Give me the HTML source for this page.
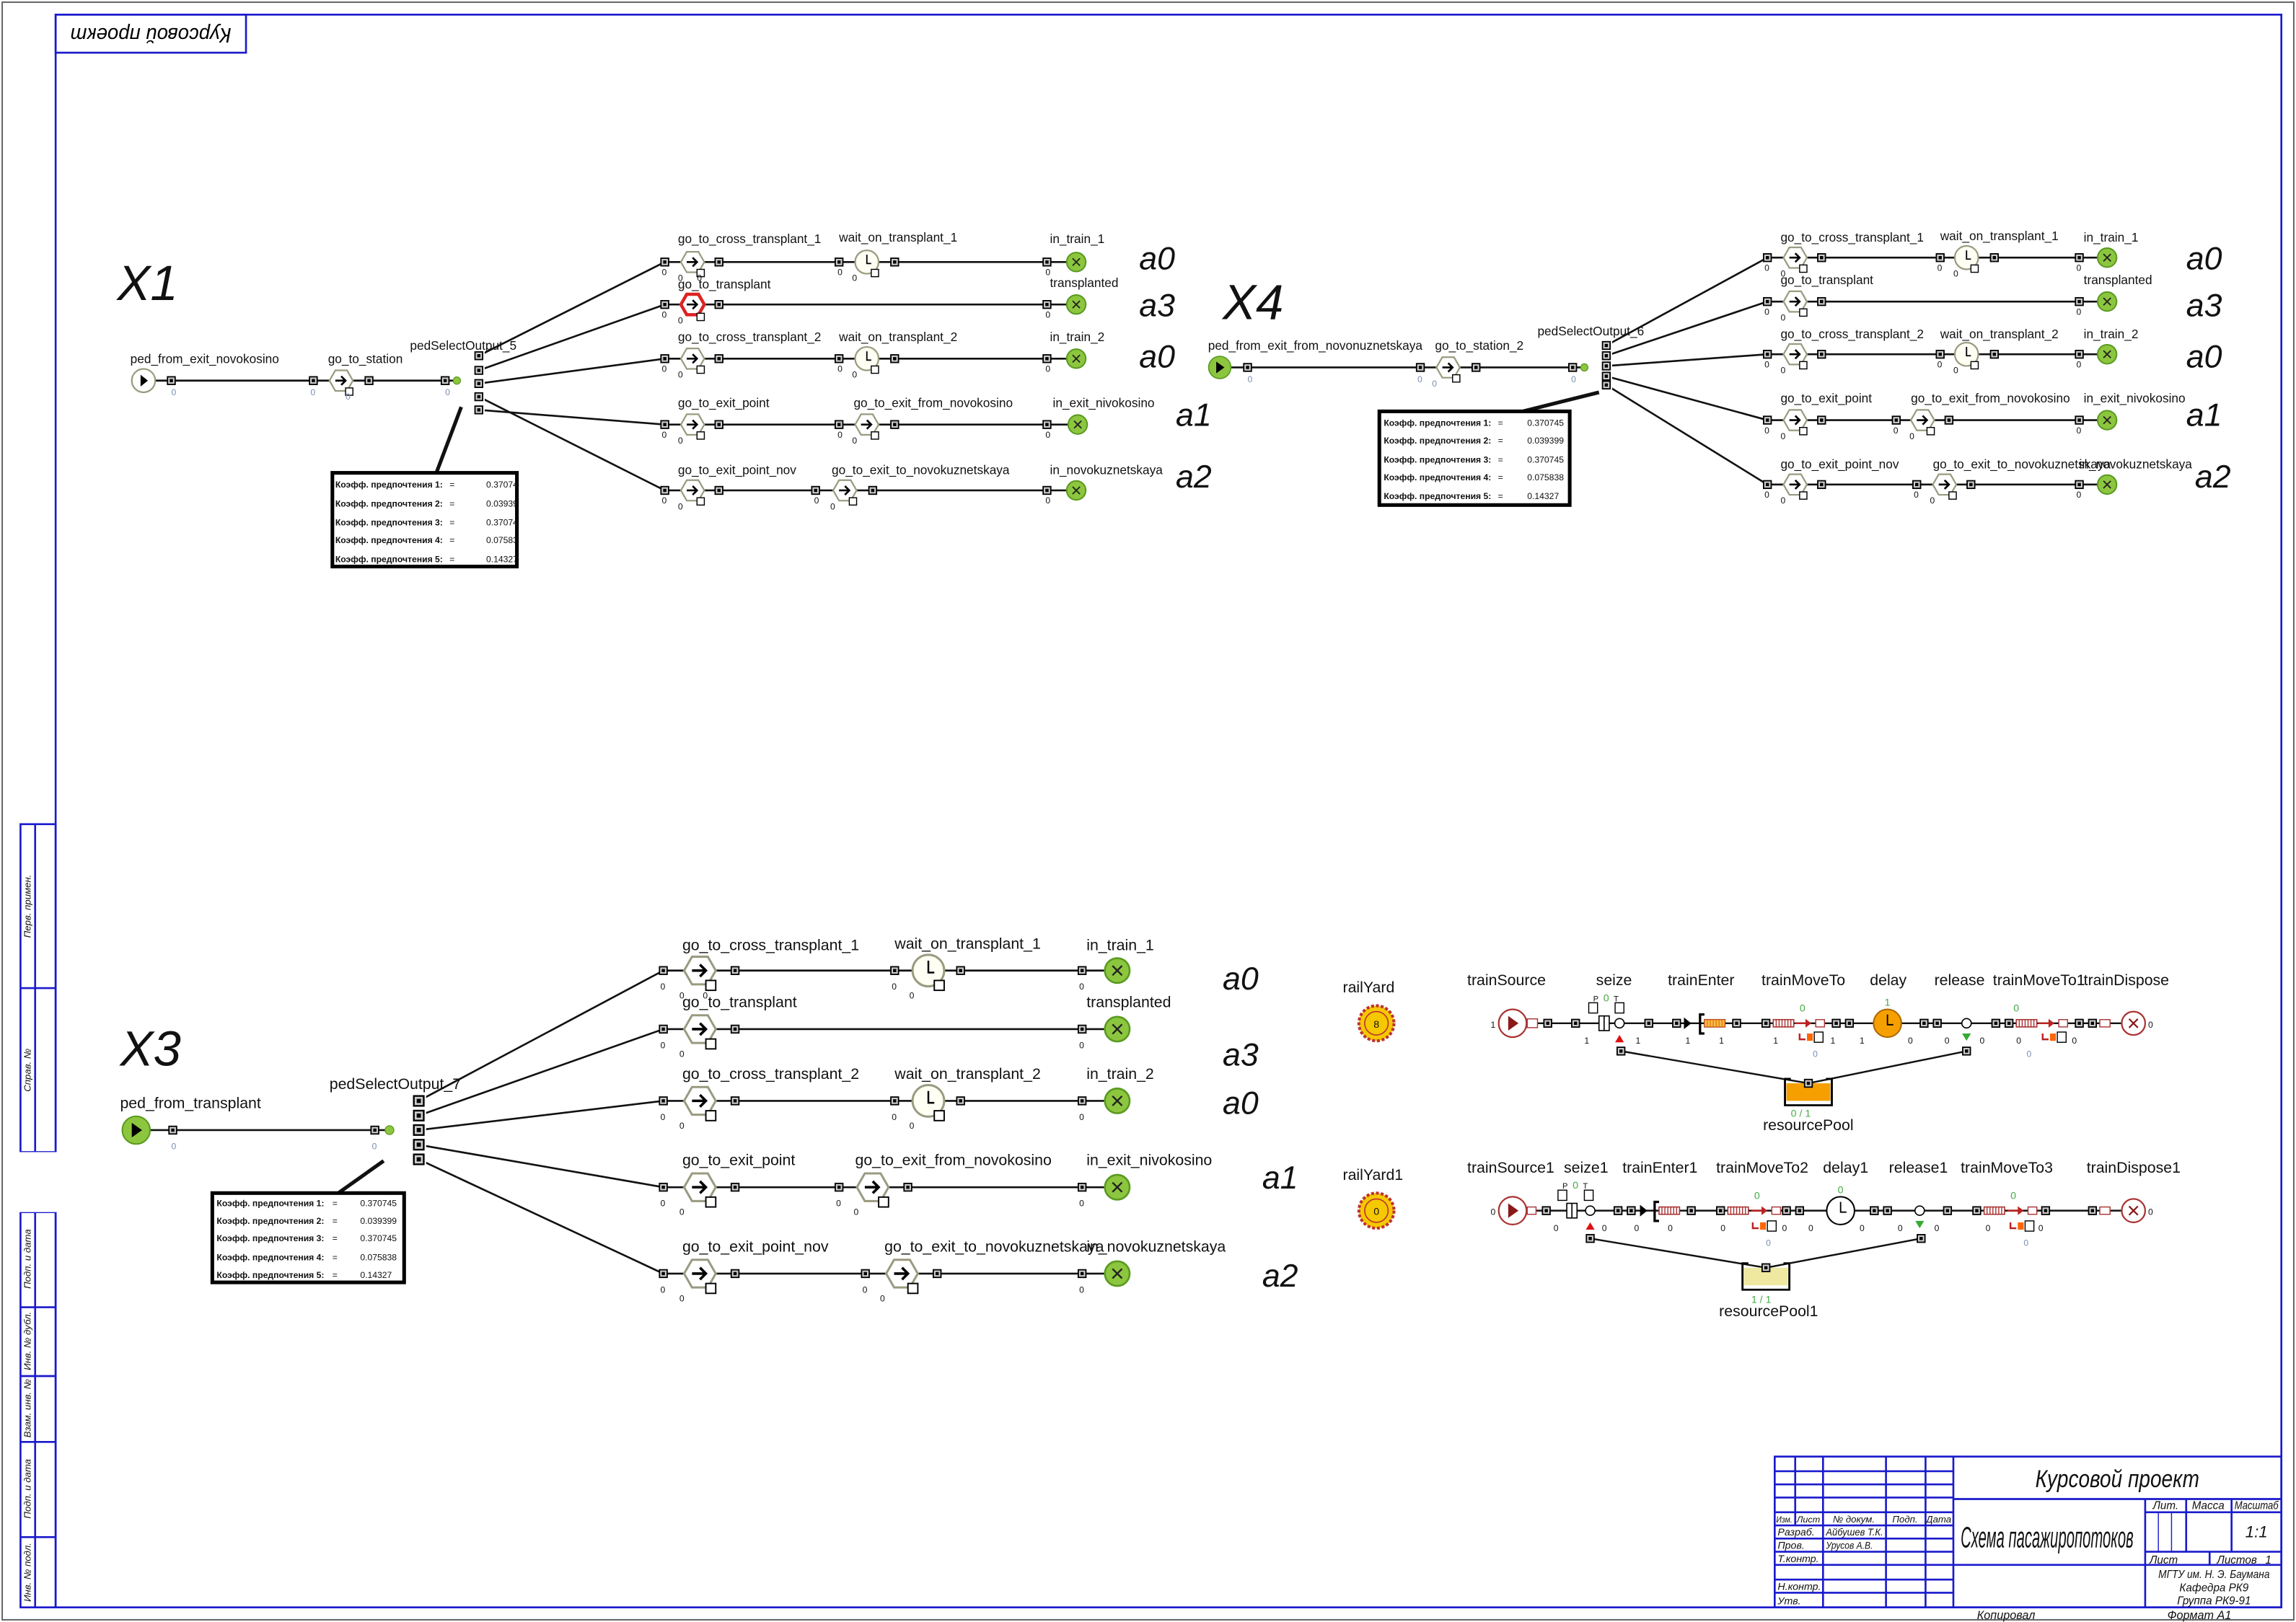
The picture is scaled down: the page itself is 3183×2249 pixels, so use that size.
<!DOCTYPE html>
<html><head><meta charset="utf-8"><style>
html,body{margin:0;padding:0;background:#fff;}
svg{display:block;}
text{font-family:"Liberation Sans Narrow","Liberation Sans",sans-serif;fill:#111;}
.l{font-size:8.5px;}
.lb{font-size:10.5px;}
.z{font-size:6px;fill:#7a8fb0;}
.g{font-size:7px;fill:#4a4;}
.big{font-size:34px;font-style:italic;font-family:"Liberation Sans Narrow","Liberation Sans",sans-serif;}
.a{font-size:22px;font-style:italic;}
.t{font-style:italic;fill:#000;}
.c{font-size:6px;font-weight:bold;}
.ln{stroke:#111;stroke-width:1.3;fill:none;}
.bl{stroke:#1a1acc;fill:none;stroke-width:1.3;}
</style></head><body>
<svg width="3183" height="2249" viewBox="0 0 1568 1108" preserveAspectRatio="none" xmlns="http://www.w3.org/2000/svg">
<defs>
<g id="p"><rect x="-2.6" y="-2.6" width="5.2" height="5.2" fill="#ccc" stroke="#000" stroke-width="0.9"/><rect x="-1.1" y="-1.1" width="2.2" height="2.2" fill="#000"/></g>
<g id="h"><polygon points="-8,0 -4,-7 4,-7 8,0 4,7 -4,7" fill="#fff" stroke="#9a9a80" stroke-width="1.1"/><path d="M-4,0 H3 M0,-3 L3,0 L0,3" stroke="#000" fill="none" stroke-width="1.3"/><rect x="3" y="5" width="5" height="5" fill="#fff" stroke="#000" stroke-width="0.7"/></g>
<g id="hr"><polygon points="-8,0 -4,-7 4,-7 8,0 4,7 -4,7" fill="#fff" stroke="#d22" stroke-width="2.2"/><path d="M-4,0 H3 M0,-3 L3,0 L0,3" stroke="#000" fill="none" stroke-width="1.3"/><rect x="3" y="6" width="5" height="5" fill="#fff" stroke="#000" stroke-width="0.7"/></g>
<g id="k"><circle r="8" fill="#fffff4" stroke="#9a9a80" stroke-width="1.1"/><path d="M0,-5 V1 H3" stroke="#000" fill="none" stroke-width="0.9"/><rect x="3" y="5" width="5" height="5" fill="#fff" stroke="#000" stroke-width="0.7"/></g>
<g id="s"><circle r="6.5" fill="#8cc63f" stroke="#5a9a20" stroke-width="1"/><path d="M-2.5,-2.5 L2.5,2.5 M2.5,-2.5 L-2.5,2.5" stroke="#222" stroke-width="0.9"/></g>
<g id="src"><circle r="8" fill="#fff" stroke="#9a9a80" stroke-width="1.1"/><polygon points="-2,-4 3,0 -2,4" fill="#000"/></g>
<g id="srcg"><circle r="9.5" fill="#8cc63f" stroke="#5a9a20" stroke-width="1"/><polygon points="-3,-5 4,0 -3,5" fill="#000"/></g>
<g id="hatch"><rect x="0" y="-2.5" width="14" height="5" fill="#fff" stroke="#a33" stroke-width="0.8"/><path d="M2,-2.5V2.5M4,-2.5V2.5M6,-2.5V2.5M8,-2.5V2.5M10,-2.5V2.5M12,-2.5V2.5" stroke="#a33" stroke-width="0.7"/></g>
<g id="ra"><path d="M0,0 H8" stroke="#b22" stroke-width="1.2"/><polygon points="7,-3 11,0 7,3" fill="#b22"/></g>
<g id="sub"><path d="M-9,-3 V1 H-5" stroke="#b22" fill="none" stroke-width="1.2"/><rect x="-4" y="-3" width="4" height="5" fill="#f60"/><rect x="1" y="-4" width="6" height="7" fill="#fff" stroke="#000" stroke-width="0.7"/></g>
</defs>

<!-- frames -->
<rect x="1.5" y="1.5" width="1565" height="1105" fill="none" stroke="#666" stroke-width="1"/>
<rect x="38" y="10" width="1520" height="1088" class="bl"/>
<rect x="38" y="10" width="130" height="26" class="bl"/>
<text class="t" font-size="14" transform="translate(103,23) rotate(180)" text-anchor="middle" dominant-baseline="middle" textLength="110" lengthAdjust="spacingAndGlyphs">Курсовой проект</text>
<!-- left strip -->
<rect x="14" y="563" width="24" height="535" class="bl"/>
<line x1="24" y1="563" x2="24" y2="1098" class="bl"/>
<line x1="14" y1="675" x2="38" y2="675" class="bl"/>
<line x1="14" y1="787" x2="38" y2="787" class="bl"/>
<line x1="14" y1="828" x2="38" y2="828" class="bl"/>
<line x1="14" y1="893" x2="38" y2="893" class="bl"/>
<line x1="14" y1="940" x2="38" y2="940" class="bl"/>
<line x1="14" y1="985" x2="38" y2="985" class="bl"/>
<line x1="14" y1="1050" x2="38" y2="1050" class="bl"/>
<rect x="11" y="787" width="30" height="41" fill="#fff" stroke="none"/>
<g class="t" font-size="6.5">
<text transform="translate(21,619) rotate(-90)" text-anchor="middle">Перв. примен.</text>
<text transform="translate(21,731) rotate(-90)" text-anchor="middle">Справ. №</text>
<text transform="translate(21,860) rotate(-90)" text-anchor="middle">Подп. и дата</text>
<text transform="translate(21,916) rotate(-90)" text-anchor="middle" textLength="40" lengthAdjust="spacingAndGlyphs">Инв. № дубл.</text>
<text transform="translate(21,962) rotate(-90)" text-anchor="middle" textLength="40" lengthAdjust="spacingAndGlyphs">Взам. инв. №</text>
<text transform="translate(21,1017) rotate(-90)" text-anchor="middle">Подп. и дата</text>
<text transform="translate(21,1074) rotate(-90)" text-anchor="middle">Инв. № подл.</text>
</g>

<!-- title block -->
<g class="bl">
<rect x="1212" y="995" width="346" height="103"/>
<line x1="1226" y1="995" x2="1226" y2="1042"/>
<line x1="1245" y1="995" x2="1245" y2="1098"/>
<line x1="1288" y1="995" x2="1288" y2="1098"/>
<line x1="1315" y1="995" x2="1315" y2="1098"/>
<line x1="1334" y1="995" x2="1334" y2="1098"/>
<line x1="1212" y1="1005" x2="1334" y2="1005"/>
<line x1="1212" y1="1014" x2="1334" y2="1014"/>
<line x1="1212" y1="1023" x2="1334" y2="1023"/>
<line x1="1212" y1="1033" x2="1334" y2="1033"/>
<line x1="1212" y1="1042" x2="1334" y2="1042"/>
<line x1="1212" y1="1051" x2="1334" y2="1051"/>
<line x1="1212" y1="1060" x2="1334" y2="1060"/>
<line x1="1212" y1="1069" x2="1334" y2="1069"/>
<line x1="1212" y1="1079" x2="1334" y2="1079"/>
<line x1="1212" y1="1088" x2="1334" y2="1088"/>
<line x1="1334" y1="1024" x2="1558" y2="1024"/>
<line x1="1334" y1="1069" x2="1558" y2="1069"/>
<line x1="1465" y1="1024" x2="1465" y2="1098"/>
<line x1="1465" y1="1033" x2="1558" y2="1033"/>
<line x1="1465" y1="1060" x2="1558" y2="1060"/>
<line x1="1493" y1="1024" x2="1493" y2="1060"/>
<line x1="1524" y1="1024" x2="1524" y2="1060"/>
<line x1="1509" y1="1060" x2="1509" y2="1069"/>
<line x1="1474" y1="1033" x2="1474" y2="1060" stroke-width="0.7"/>
<line x1="1483" y1="1033" x2="1483" y2="1060" stroke-width="0.7"/>
</g>
<g class="t">
<text x="1446" y="1016" font-size="17" text-anchor="middle" textLength="112" lengthAdjust="spacingAndGlyphs">Курсовой проект</text>
<text x="1398" y="1057" font-size="20" text-anchor="middle" textLength="118" lengthAdjust="spacingAndGlyphs">Схема пасажиропотоков</text>
<text x="1213" y="1040" font-size="6" textLength="11" lengthAdjust="spacingAndGlyphs">Изм.</text><text x="1227" y="1040" font-size="6" textLength="16" lengthAdjust="spacingAndGlyphs">Лист</text>
<text x="1266" y="1040" font-size="6.5" text-anchor="middle">№ докум.</text><text x="1301" y="1040" font-size="6.5" text-anchor="middle">Подп.</text><text x="1324" y="1040" font-size="6.5" text-anchor="middle">Дата</text>
<text x="1214" y="1049" font-size="7">Разраб.</text><text x="1247" y="1049" font-size="7" textLength="39" lengthAdjust="spacingAndGlyphs">Айбушев Т.К.</text>
<text x="1214" y="1058" font-size="7">Пров.</text><text x="1247" y="1058" font-size="7" textLength="32" lengthAdjust="spacingAndGlyphs">Урусов А.В.</text>
<text x="1214" y="1067" font-size="7">Т.контр.</text>
<text x="1214" y="1086" font-size="7">Н.контр.</text>
<text x="1214" y="1096" font-size="7">Утв.</text>
<text x="1479" y="1031" font-size="7.5" text-anchor="middle">Лит.</text>
<text x="1508" y="1031" font-size="7.5" text-anchor="middle">Масса</text>
<text x="1541" y="1031" font-size="7.5" text-anchor="middle" textLength="30" lengthAdjust="spacingAndGlyphs">Масштаб</text>
<text x="1541" y="1050" font-size="11" text-anchor="middle">1:1</text>
<text x="1468" y="1068" font-size="7.5">Лист</text>
<text x="1514" y="1068" font-size="7.5">Листов</text><text x="1547" y="1068" font-size="7.5">1</text>
<text x="1512" y="1078" font-size="7.5" text-anchor="middle" textLength="76" lengthAdjust="spacingAndGlyphs">МГТУ им. Н. Э. Баумана</text>
<text x="1512" y="1087" font-size="7.5" text-anchor="middle">Кафедра РК9</text>
<text x="1512" y="1096" font-size="7.5" text-anchor="middle">Группа РК9-91</text>
<text x="1370" y="1106" font-size="8" text-anchor="middle">Копировал</text>
<text x="1502" y="1106" font-size="8" text-anchor="middle">Формат   А1</text>
</g>

<!-- ================= X1 ================= -->
<text x="80" y="205" class="big">X1</text>
<g class="ln">
<line x1="98" y1="260" x2="312" y2="260"/>
<line x1="327" y1="243" x2="454" y2="179"/>
<line x1="327" y1="253" x2="454" y2="208"/>
<line x1="327" y1="262" x2="454" y2="245"/>
<line x1="327" y1="271" x2="454" y2="335"/>
<line x1="327" y1="280" x2="454" y2="290"/>
<line x1="454" y1="179" x2="735" y2="179"/>
<line x1="454" y1="208" x2="735" y2="208"/>
<line x1="454" y1="245" x2="735" y2="245"/>
<line x1="454" y1="290" x2="735" y2="290"/>
<line x1="454" y1="335" x2="735" y2="335"/>
<line x1="315" y1="278" x2="298" y2="323" stroke-width="2.5"/>
</g>
<use href="#src" x="98" y="260"/><use href="#p" x="117" y="260"/>
<use href="#p" x="214" y="260"/><use href="#h" x="233" y="260"/><use href="#p" x="252" y="260"/>
<use href="#p" x="304" y="260"/><circle cx="312" cy="260" r="2.5" fill="#8cc63f" stroke="#5a9a20" stroke-width="0.6"/>
<rect x="323" y="239" width="8" height="46" fill="#fff"/>
<use href="#p" x="327" y="243"/><use href="#p" x="327" y="253"/><use href="#p" x="327" y="262"/><use href="#p" x="327" y="271"/><use href="#p" x="327" y="280"/>
<text x="89" y="248" class="l">ped_from_exit_novokosino</text>
<text x="224" y="248" class="l">go_to_station</text>
<text x="280" y="239" class="l">pedSelectOutput_5</text>
<text x="117" y="270" class="z">0</text><text x="212" y="270" class="z">0</text><text x="236" y="273" class="z">0</text><text x="304" y="270" class="z">0</text>
<use href="#p" x="454" y="179"/><use href="#h" x="473" y="179"/><use href="#p" x="491" y="179"/><use href="#p" x="573" y="179"/><use href="#k" x="592" y="179"/><use href="#p" x="611" y="179"/><use href="#p" x="715" y="179"/><use href="#s" x="735" y="179"/>
<use href="#p" x="454" y="208"/><use href="#hr" x="473" y="208"/><use href="#p" x="491" y="208"/><use href="#p" x="715" y="208"/><use href="#s" x="735" y="208"/>
<use href="#p" x="454" y="245"/><use href="#h" x="473" y="245"/><use href="#p" x="491" y="245"/><use href="#p" x="573" y="245"/><use href="#k" x="592" y="245"/><use href="#p" x="611" y="245"/><use href="#p" x="715" y="245"/><use href="#s" x="735" y="245"/>
<use href="#p" x="454" y="290"/><use href="#h" x="473" y="290"/><use href="#p" x="491" y="290"/><use href="#p" x="573" y="290"/><use href="#h" x="592" y="290"/><use href="#p" x="611" y="290"/><use href="#p" x="715" y="290"/><use href="#s" x="736" y="290"/>
<use href="#p" x="454" y="335"/><use href="#h" x="473" y="335"/><use href="#p" x="491" y="335"/><use href="#p" x="557" y="335"/><use href="#h" x="577" y="335"/><use href="#p" x="596" y="335"/><use href="#p" x="715" y="335"/><use href="#s" x="735" y="335"/>
<g class="l">
<text x="463" y="166">go_to_cross_transplant_1</text><text x="573" y="165">wait_on_transplant_1</text><text x="717" y="166">in_train_1</text>
<text x="463" y="197">go_to_transplant</text><text x="717" y="196">transplanted</text>
<text x="463" y="233">go_to_cross_transplant_2</text><text x="573" y="233">wait_on_transplant_2</text><text x="717" y="233">in_train_2</text>
<text x="463" y="278">go_to_exit_point</text><text x="583" y="278">go_to_exit_from_novokosino</text><text x="719" y="278">in_exit_nivokosino</text>
<text x="463" y="324">go_to_exit_point_nov</text><text x="568" y="324">go_to_exit_to_novokuznetskaya</text><text x="717" y="324">in_novokuznetskaya</text>
</g>
<g class="z"><text x="452" y="188">0</text><text x="463" y="192">0</text><text x="476" y="192">0</text><text x="572" y="188">0</text><text x="582" y="192">0</text><text x="714" y="188">0</text>
<text x="452" y="217">0</text><text x="463" y="221">0</text><text x="714" y="217">0</text>
<text x="452" y="254">0</text><text x="463" y="258">0</text><text x="572" y="254">0</text><text x="582" y="258">0</text><text x="714" y="254">0</text>
<text x="452" y="299">0</text><text x="463" y="303">0</text><text x="572" y="299">0</text><text x="582" y="303">0</text><text x="714" y="299">0</text>
<text x="452" y="344">0</text><text x="463" y="348">0</text><text x="556" y="344">0</text><text x="567" y="348">0</text><text x="714" y="344">0</text></g>
<g class="a"><text x="778" y="184">a0</text><text x="778" y="216">a3</text><text x="778" y="251">a0</text><text x="803" y="291">a1</text><text x="803" y="333">a2</text></g>
<rect x="227" y="323" width="126" height="64" fill="#fff" stroke="#000" stroke-width="2.5"/>
<g class="c"><text x="229" y="333">Коэфф. предпочтения 1:</text><text x="229" y="346">Коэфф. предпочтения 2:</text><text x="229" y="359">Коэфф. предпочтения 3:</text><text x="229" y="371">Коэфф. предпочтения 4:</text><text x="229" y="384">Коэфф. предпочтения 5:</text></g>
<g font-size="6" font-family="Liberation Mono,monospace"><text x="307" y="333" fill="#38a">=</text><text x="307" y="346" fill="#38a">=</text><text x="307" y="359" fill="#38a">=</text><text x="307" y="371" fill="#38a">=</text><text x="307" y="384" fill="#38a">=</text>
<text x="332" y="333">0.37074</text><text x="332" y="346">0.03939</text><text x="332" y="359">0.37074</text><text x="332" y="371">0.07583</text><text x="332" y="384">0.14327</text></g>

<!-- ================= X4 ================= -->
<text x="835" y="218" class="big">X4</text>
<g class="ln">
<line x1="833" y1="251" x2="1082" y2="251"/>
<line x1="1097" y1="236" x2="1207" y2="176"/>
<line x1="1097" y1="243" x2="1207" y2="206"/>
<line x1="1097" y1="250" x2="1207" y2="242"/>
<line x1="1097" y1="257" x2="1207" y2="287"/>
<line x1="1097" y1="263" x2="1207" y2="331"/>
<line x1="1207" y1="176" x2="1439" y2="176"/>
<line x1="1207" y1="206" x2="1439" y2="206"/>
<line x1="1207" y1="242" x2="1439" y2="242"/>
<line x1="1207" y1="287" x2="1439" y2="287"/>
<line x1="1207" y1="331" x2="1439" y2="331"/>
<line x1="1092" y1="268" x2="1040" y2="281" stroke-width="2.5"/>
</g>
<use href="#srcg" x="833" y="251" transform="translate(833,251) scale(0.8) translate(-833,-251)"/><use href="#p" x="852" y="251"/>
<use href="#p" x="970" y="251"/><use href="#h" x="989" y="251"/><use href="#p" x="1008" y="251"/>
<use href="#p" x="1074" y="251"/><circle cx="1082" cy="251" r="2.5" fill="#8cc63f" stroke="#5a9a20" stroke-width="0.6"/>
<rect x="1093" y="232" width="8" height="35" fill="#fff"/>
<use href="#p" x="1097" y="236"/><use href="#p" x="1097" y="243"/><use href="#p" x="1097" y="250"/><use href="#p" x="1097" y="257"/><use href="#p" x="1097" y="263"/>
<text x="825" y="239" class="l">ped_from_exit_from_novonuznetskaya</text>
<text x="980" y="239" class="l">go_to_station_2</text>
<text x="1050" y="229" class="l">pedSelectOutput_6</text>
<text x="852" y="261" class="z">0</text><text x="968" y="261" class="z">0</text><text x="978" y="264" class="z">0</text><text x="1073" y="261" class="z">0</text>
<use href="#p" x="1207" y="176"/><use href="#h" x="1226" y="176"/><use href="#p" x="1244" y="176"/><use href="#p" x="1325" y="176"/><use href="#k" x="1343" y="176"/><use href="#p" x="1362" y="176"/><use href="#p" x="1420" y="176"/><use href="#s" x="1439" y="176"/>
<use href="#p" x="1207" y="206"/><use href="#h" x="1226" y="206"/><use href="#p" x="1244" y="206"/><use href="#p" x="1420" y="206"/><use href="#s" x="1439" y="206"/>
<use href="#p" x="1207" y="242"/><use href="#h" x="1226" y="242"/><use href="#p" x="1244" y="242"/><use href="#p" x="1325" y="242"/><use href="#k" x="1343" y="242"/><use href="#p" x="1362" y="242"/><use href="#p" x="1420" y="242"/><use href="#s" x="1439" y="242"/>
<use href="#p" x="1207" y="287"/><use href="#h" x="1226" y="287"/><use href="#p" x="1244" y="287"/><use href="#p" x="1295" y="287"/><use href="#h" x="1313" y="287"/><use href="#p" x="1331" y="287"/><use href="#p" x="1420" y="287"/><use href="#s" x="1439" y="287"/>
<use href="#p" x="1207" y="331"/><use href="#h" x="1226" y="331"/><use href="#p" x="1244" y="331"/><use href="#p" x="1309" y="331"/><use href="#h" x="1328" y="331"/><use href="#p" x="1346" y="331"/><use href="#p" x="1420" y="331"/><use href="#s" x="1439" y="331"/>
<g class="l">
<text x="1216" y="165">go_to_cross_transplant_1</text><text x="1325" y="164">wait_on_transplant_1</text><text x="1423" y="165">in_train_1</text>
<text x="1216" y="194">go_to_transplant</text><text x="1423" y="194">transplanted</text>
<text x="1216" y="231">go_to_cross_transplant_2</text><text x="1325" y="231">wait_on_transplant_2</text><text x="1423" y="231">in_train_2</text>
<text x="1216" y="275">go_to_exit_point</text><text x="1305" y="275">go_to_exit_from_novokosino</text><text x="1423" y="275">in_exit_nivokosino</text>
<text x="1216" y="320">go_to_exit_point_nov</text><text x="1320" y="320">go_to_exit_to_novokuznetskaya</text><text x="1420" y="320">in_novokuznetskaya</text>
</g>
<g class="z"><text x="1205" y="185">0</text><text x="1216" y="189">0</text><text x="1323" y="185">0</text><text x="1334" y="189">0</text><text x="1418" y="185">0</text>
<text x="1205" y="215">0</text><text x="1216" y="219">0</text><text x="1418" y="215">0</text>
<text x="1205" y="251">0</text><text x="1216" y="255">0</text><text x="1323" y="251">0</text><text x="1334" y="255">0</text><text x="1418" y="251">0</text>
<text x="1205" y="296">0</text><text x="1216" y="300">0</text><text x="1293" y="296">0</text><text x="1304" y="300">0</text><text x="1418" y="296">0</text>
<text x="1205" y="340">0</text><text x="1216" y="344">0</text><text x="1307" y="340">0</text><text x="1318" y="344">0</text><text x="1418" y="340">0</text></g>
<g class="a"><text x="1493" y="184">a0</text><text x="1493" y="216">a3</text><text x="1493" y="251">a0</text><text x="1493" y="291">a1</text><text x="1499" y="333">a2</text></g>
<rect x="942" y="281" width="130" height="64" fill="#fff" stroke="#000" stroke-width="2.5"/>
<g class="c"><text x="945" y="291">Коэфф. предпочтения 1:</text><text x="945" y="303">Коэфф. предпочтения 2:</text><text x="945" y="316">Коэфф. предпочтения 3:</text><text x="945" y="328">Коэфф. предпочтения 4:</text><text x="945" y="341">Коэфф. предпочтения 5:</text></g>
<g font-size="6" font-family="Liberation Mono,monospace"><text x="1023" y="291" fill="#38a">=</text><text x="1023" y="303" fill="#38a">=</text><text x="1023" y="316" fill="#38a">=</text><text x="1023" y="328" fill="#38a">=</text><text x="1023" y="341" fill="#38a">=</text>
<text x="1043" y="291">0.370745</text><text x="1043" y="303">0.039399</text><text x="1043" y="316">0.370745</text><text x="1043" y="328">0.075838</text><text x="1043" y="341">0.14327</text></g>

<!-- ================= X3 ================= -->
<text x="82" y="728" class="big">X3</text>
<g class="ln">
<line x1="93" y1="772" x2="266" y2="772"/>
<line x1="286" y1="752" x2="453" y2="663"/>
<line x1="286" y1="762" x2="453" y2="703"/>
<line x1="286" y1="772" x2="453" y2="752"/>
<line x1="286" y1="782" x2="453" y2="811"/>
<line x1="286" y1="792" x2="453" y2="870"/>
<line x1="453" y1="663" x2="763" y2="663"/>
<line x1="453" y1="703" x2="763" y2="703"/>
<line x1="453" y1="752" x2="763" y2="752"/>
<line x1="453" y1="811" x2="763" y2="811"/>
<line x1="453" y1="870" x2="763" y2="870"/>
<line x1="262" y1="793" x2="231" y2="815" stroke-width="2.5"/>
</g>
<use href="#srcg" x="93" y="772"/><use href="#p" x="118" y="772"/>
<use href="#p" x="256" y="772"/><circle cx="266" cy="772" r="3" fill="#8cc63f" stroke="#5a9a20" stroke-width="0.6"/>
<rect x="281" y="747" width="10" height="50" fill="#fff"/>
<g transform="translate(286,0) scale(1.3,1.3)"><use href="#p" x="0" y="578.5"/><use href="#p" x="0" y="586.2"/><use href="#p" x="0" y="593.8"/><use href="#p" x="0" y="601.5"/><use href="#p" x="0" y="609.2"/></g>
<text x="82" y="757" class="lb">ped_from_transplant</text>
<text x="225" y="744" class="lb">pedSelectOutput_7</text>
<text x="117" y="785" class="z" font-size="7">0</text><text x="254" y="785" class="z" font-size="7">0</text>
<g>
<use href="#p" x="453" y="663"/><use href="#p" x="502" y="663"/><use href="#p" x="611" y="663"/><use href="#p" x="656" y="663"/><use href="#p" x="739" y="663"/>
<use href="#p" x="453" y="703"/><use href="#p" x="502" y="703"/><use href="#p" x="739" y="703"/>
<use href="#p" x="453" y="752"/><use href="#p" x="502" y="752"/><use href="#p" x="611" y="752"/><use href="#p" x="656" y="752"/><use href="#p" x="739" y="752"/>
<use href="#p" x="453" y="811"/><use href="#p" x="502" y="811"/><use href="#p" x="573" y="811"/><use href="#p" x="620" y="811"/><use href="#p" x="739" y="811"/>
<use href="#p" x="453" y="870"/><use href="#p" x="502" y="870"/><use href="#p" x="591" y="870"/><use href="#p" x="640" y="870"/><use href="#p" x="739" y="870"/>
</g>
<g transform="translate(478,663) scale(1.35)"><use href="#h"/></g>
<g transform="translate(634,663) scale(1.35)"><use href="#k"/></g>
<g transform="translate(763,663) scale(1.3)"><use href="#s"/></g>
<g transform="translate(478,703) scale(1.35)"><use href="#h"/></g>
<g transform="translate(763,703) scale(1.3)"><use href="#s"/></g>
<g transform="translate(478,752) scale(1.35)"><use href="#h"/></g>
<g transform="translate(634,752) scale(1.35)"><use href="#k"/></g>
<g transform="translate(763,752) scale(1.3)"><use href="#s"/></g>
<g transform="translate(478,811) scale(1.35)"><use href="#h"/></g>
<g transform="translate(596,811) scale(1.35)"><use href="#h"/></g>
<g transform="translate(763,811) scale(1.3)"><use href="#s"/></g>
<g transform="translate(478,870) scale(1.35)"><use href="#h"/></g>
<g transform="translate(616,870) scale(1.35)"><use href="#h"/></g>
<g transform="translate(763,870) scale(1.3)"><use href="#s"/></g>
<g class="lb">
<text x="466" y="649">go_to_cross_transplant_1</text><text x="611" y="648">wait_on_transplant_1</text><text x="742" y="649">in_train_1</text>
<text x="466" y="688">go_to_transplant</text><text x="742" y="688">transplanted</text>
<text x="466" y="737">go_to_cross_transplant_2</text><text x="611" y="737">wait_on_transplant_2</text><text x="742" y="737">in_train_2</text>
<text x="466" y="796">go_to_exit_point</text><text x="584" y="796">go_to_exit_from_novokosino</text><text x="742" y="796">in_exit_nivokosino</text>
<text x="466" y="855">go_to_exit_point_nov</text><text x="604" y="855">go_to_exit_to_novokuznetskaya</text><text x="742" y="855">in_novokuznetskaya</text>
</g>
<g class="z" font-size="7"><text x="451" y="676">0</text><text x="464" y="682">0</text><text x="480" y="682">0</text><text x="609" y="676">0</text><text x="621" y="682">0</text><text x="737" y="676">0</text>
<text x="451" y="716">0</text><text x="464" y="722">0</text><text x="737" y="716">0</text>
<text x="451" y="765">0</text><text x="464" y="771">0</text><text x="609" y="765">0</text><text x="621" y="771">0</text><text x="737" y="765">0</text>
<text x="451" y="824">0</text><text x="464" y="830">0</text><text x="571" y="824">0</text><text x="583" y="830">0</text><text x="737" y="824">0</text>
<text x="451" y="883">0</text><text x="464" y="889">0</text><text x="589" y="883">0</text><text x="601" y="889">0</text><text x="737" y="883">0</text></g>
<g class="a"><text x="835" y="676">a0</text><text x="835" y="728">a3</text><text x="835" y="761">a0</text><text x="862" y="812">a1</text><text x="862" y="879">a2</text></g>
<rect x="145" y="815" width="131" height="61" fill="#fff" stroke="#000" stroke-width="2.5"/>
<g class="c"><text x="148" y="824">Коэфф. предпочтения 1:</text><text x="148" y="836">Коэфф. предпочтения 2:</text><text x="148" y="848">Коэфф. предпочтения 3:</text><text x="148" y="861">Коэфф. предпочтения 4:</text><text x="148" y="873">Коэфф. предпочтения 5:</text></g>
<g font-size="6" font-family="Liberation Mono,monospace"><text x="227" y="824" fill="#38a">=</text><text x="227" y="836" fill="#38a">=</text><text x="227" y="848" fill="#38a">=</text><text x="227" y="861" fill="#38a">=</text><text x="227" y="873" fill="#38a">=</text>
<text x="246" y="824">0.370745</text><text x="246" y="836">0.039399</text><text x="246" y="848">0.370745</text><text x="246" y="861">0.075838</text><text x="246" y="873">0.14327</text></g>

<!-- ================= Rail ================= -->
<g>
<circle cx="940" cy="699" r="12" fill="#f5c800" stroke="#b33" stroke-width="2" stroke-dasharray="2,1.3"/>
<circle cx="940" cy="699" r="8" fill="#f5c800" stroke="#b33" stroke-width="0.8"/>
<text x="940" y="702" font-size="7" text-anchor="middle" fill="#a60">8</text>
<text x="917" y="678" class="lb">railYard</text>
<circle cx="940" cy="827" r="12" fill="#f5c800" stroke="#b33" stroke-width="2" stroke-dasharray="2,1.3"/>
<circle cx="940" cy="827" r="8" fill="#f5c800" stroke="#b33" stroke-width="0.8"/>
<text x="940" y="830" font-size="7" text-anchor="middle" fill="#a60">0</text>
<text x="917" y="806" class="lb">railYard1</text>
</g>
<!-- row1 -->
<g class="lb"><text x="1002" y="673">trainSource</text><text x="1090" y="673">seize</text><text x="1139" y="673">trainEnter</text><text x="1203" y="673">trainMoveTo</text><text x="1277" y="673">delay</text><text x="1321" y="673">release</text><text x="1361" y="673">trainMoveTo1</text><text x="1423" y="673">trainDispose</text></g>
<line x1="1033" y1="699" x2="1457" y2="699" stroke="#111" stroke-width="1.2"/>
<line x1="1107" y1="718" x2="1235" y2="740" stroke="#111" stroke-width="1.2"/>
<line x1="1343" y1="718" x2="1235" y2="740" stroke="#111" stroke-width="1.2"/>
<circle cx="1033" cy="699" r="9.5" fill="#fff" stroke="#a33" stroke-width="1.1"/><polygon points="1030,694 1037,699 1030,704" fill="#8a1a1a"/>
<rect x="1043" y="696" width="7" height="6" fill="#fff" stroke="#a33" stroke-width="0.7"/>
<use href="#p" x="1057" y="699"/><use href="#p" x="1076" y="699"/>
<rect x="1092" y="694" width="7" height="10" fill="#fff" stroke="#000" stroke-width="0.8"/><line x1="1095.5" y1="694" x2="1095.5" y2="704" stroke="#000" stroke-width="0.8"/>
<circle cx="1106" cy="699" r="3.2" fill="#fff" stroke="#000" stroke-width="0.8"/>
<rect x="1085" y="685" width="6" height="7" fill="#fff" stroke="#000" stroke-width="0.7"/><rect x="1103" y="685" width="6" height="7" fill="#fff" stroke="#000" stroke-width="0.7"/>
<text x="1088" y="684" font-size="5.5" fill="#999">P</text><text x="1095" y="684" class="g" font-size="6">0</text><text x="1102" y="684" font-size="5.5" fill="#999">T</text>
<polygon points="1103,712 1106,707 1109,712" fill="#d11"/><use href="#p" x="1107" y="718"/>
<use href="#p" x="1126" y="699"/><use href="#p" x="1145" y="699"/><polygon points="1150,695 1155,699 1150,703" fill="#000"/>
<path d="M1164,693 H1161 V706 H1164" stroke="#000" stroke-width="1.6" fill="none"/>
<use href="#hatch" x="1164" y="699"/>
<rect x="1164" y="696.5" width="14" height="5" fill="#f5a000" opacity="0.7"/>
<use href="#p" x="1186" y="699"/><use href="#p" x="1206" y="699"/>
<use href="#hatch" x="1211" y="699"/><use href="#ra" x="1226" y="699"/>
<rect x="1240" y="696.5" width="6" height="5" fill="#fff" stroke="#a33" stroke-width="0.7"/>
<use href="#p" x="1254" y="699"/><use href="#p" x="1263" y="699"/>
<use href="#sub" x="1238" y="709"/>
<text x="1229" y="691" class="g">0</text><text x="1238" y="722" class="z" font-size="7">0</text>
<circle cx="1289" cy="699" r="9.5" fill="#f5a000" stroke="#a60" stroke-width="1"/><path d="M1289,693 V700 H1293" stroke="#000" stroke-width="0.9" fill="none"/>
<text x="1287" y="687" class="g">1</text>
<use href="#p" x="1314" y="699"/><use href="#p" x="1323" y="699"/>
<circle cx="1343" cy="699" r="3.2" fill="#fff" stroke="#000" stroke-width="0.8"/>
<polygon points="1340,706 1346,706 1343,711" fill="#3a3"/><use href="#p" x="1343" y="718"/>
<use href="#p" x="1363" y="699"/><use href="#p" x="1372" y="699"/>
<use href="#hatch" x="1377" y="699"/><use href="#ra" x="1392" y="699"/>
<rect x="1406" y="696.5" width="6" height="5" fill="#fff" stroke="#a33" stroke-width="0.7"/>
<use href="#p" x="1420" y="699"/><use href="#p" x="1429" y="699"/>
<rect x="1434" y="696.5" width="7" height="5" fill="#fff" stroke="#a33" stroke-width="0.7"/>
<use href="#sub" x="1404" y="709"/>
<text x="1375" y="691" class="g">0</text><text x="1384" y="722" class="z" font-size="7">0</text>
<circle cx="1457" cy="699" r="8" fill="#fff" stroke="#a33" stroke-width="1.1"/><path d="M1454,696 L1460,702 M1460,696 L1454,702" stroke="#8a1a1a" stroke-width="1.1"/>
<g class="z" font-size="7"><text x="1018" y="702">1</text><text x="1082" y="713">1</text><text x="1117" y="713">1</text><text x="1151" y="713">1</text><text x="1174" y="713">1</text><text x="1211" y="713">1</text><text x="1250" y="713">1</text><text x="1270" y="713">1</text><text x="1303" y="713">0</text><text x="1328" y="713">0</text><text x="1352" y="713">0</text><text x="1377" y="713">0</text><text x="1415" y="713">0</text><text x="1467" y="702">0</text></g>
<rect x="1220" y="740" width="30" height="12" fill="#f5a000"/>
<path d="M1223,737 H1219 V755 H1251 V737 H1247" stroke="#000" stroke-width="1.4" fill="none"/>
<use href="#p" x="1235" y="740"/>
<text x="1223" y="763" class="g">0 / 1</text>
<text x="1204" y="772" class="lb">resourcePool</text>

<!-- row2 -->
<g class="lb"><text x="1002" y="801">trainSource1</text><text x="1068" y="801">seize1</text><text x="1108" y="801">trainEnter1</text><text x="1172" y="801">trainMoveTo2</text><text x="1245" y="801">delay1</text><text x="1290" y="801">release1</text><text x="1339" y="801">trainMoveTo3</text><text x="1425" y="801">trainDispose1</text></g>
<line x1="1033" y1="827" x2="1457" y2="827" stroke="#111" stroke-width="1.2"/>
<line x1="1086" y1="846" x2="1206" y2="866" stroke="#111" stroke-width="1.2"/>
<line x1="1312" y1="846" x2="1206" y2="866" stroke="#111" stroke-width="1.2"/>
<circle cx="1033" cy="827" r="9.5" fill="#fff" stroke="#a33" stroke-width="1.1"/><polygon points="1030,822 1037,827 1030,832" fill="#8a1a1a"/>
<rect x="1043" y="824.5" width="6" height="5" fill="#fff" stroke="#a33" stroke-width="0.7"/>
<use href="#p" x="1056" y="827"/>
<rect x="1070" y="822" width="7" height="10" fill="#fff" stroke="#000" stroke-width="0.8"/><line x1="1073.5" y1="822" x2="1073.5" y2="832" stroke="#000" stroke-width="0.8"/>
<circle cx="1086" cy="827" r="3.2" fill="#fff" stroke="#000" stroke-width="0.8"/>
<rect x="1064" y="813" width="6" height="7" fill="#fff" stroke="#000" stroke-width="0.7"/><rect x="1082" y="813" width="6" height="7" fill="#fff" stroke="#000" stroke-width="0.7"/>
<text x="1067" y="812" font-size="5.5" fill="#999">P</text><text x="1074" y="812" class="g" font-size="6">0</text><text x="1081" y="812" font-size="5.5" fill="#999">T</text>
<polygon points="1083,840 1086,835 1089,840" fill="#d11"/><use href="#p" x="1086" y="846"/>
<use href="#p" x="1105" y="827"/><use href="#p" x="1114" y="827"/><polygon points="1120,823 1125,827 1120,831" fill="#000"/>
<path d="M1133,821 H1130 V834 H1133" stroke="#000" stroke-width="1.6" fill="none"/>
<use href="#hatch" x="1133" y="827"/>
<use href="#p" x="1155" y="827"/><use href="#p" x="1175" y="827"/>
<use href="#hatch" x="1180" y="827"/><use href="#ra" x="1196" y="827"/>
<rect x="1210" y="824.5" width="6" height="5" fill="#fff" stroke="#a33" stroke-width="0.7"/>
<use href="#p" x="1220" y="827"/><use href="#p" x="1229" y="827"/>
<use href="#sub" x="1206" y="838"/>
<text x="1198" y="819" class="g">0</text><text x="1206" y="851" class="z" font-size="7">0</text>
<circle cx="1257" cy="827" r="9.5" fill="#fff" stroke="#000" stroke-width="1"/><path d="M1257,821 V828 H1261" stroke="#000" stroke-width="0.9" fill="none"/>
<text x="1255" y="815" class="g">0</text>
<use href="#p" x="1280" y="827"/><use href="#p" x="1289" y="827"/>
<circle cx="1311" cy="827" r="3.2" fill="#fff" stroke="#000" stroke-width="0.8"/>
<polygon points="1308,834 1314,834 1311,839" fill="#3a3"/><use href="#p" x="1312" y="846"/>
<use href="#p" x="1330" y="827"/><use href="#p" x="1350" y="827"/>
<use href="#hatch" x="1355" y="827"/><use href="#ra" x="1371" y="827"/>
<rect x="1385" y="824.5" width="6" height="5" fill="#fff" stroke="#a33" stroke-width="0.7"/>
<use href="#p" x="1397" y="827"/><use href="#p" x="1429" y="827"/>
<rect x="1434" y="824.5" width="7" height="5" fill="#fff" stroke="#a33" stroke-width="0.7"/>
<use href="#sub" x="1382" y="838"/>
<text x="1373" y="819" class="g">0</text><text x="1382" y="851" class="z" font-size="7">0</text>
<circle cx="1457" cy="827" r="8" fill="#fff" stroke="#a33" stroke-width="1.1"/><path d="M1454,824 L1460,830 M1460,824 L1454,830" stroke="#8a1a1a" stroke-width="1.1"/>
<g class="z" font-size="7"><text x="1018" y="830">0</text><text x="1061" y="841">0</text><text x="1094" y="841">0</text><text x="1116" y="841">0</text><text x="1139" y="841">0</text><text x="1175" y="841">0</text><text x="1217" y="841">0</text><text x="1235" y="841">0</text><text x="1270" y="841">0</text><text x="1296" y="841">0</text><text x="1321" y="841">0</text><text x="1356" y="841">0</text><text x="1392" y="841">0</text><text x="1467" y="830">0</text></g>
<rect x="1191" y="866" width="30" height="12" fill="#eee8a0"/>
<path d="M1194,863 H1190 V881 H1222 V863 H1218" stroke="#000" stroke-width="1.4" fill="none"/>
<use href="#p" x="1206" y="866"/>
<text x="1196" y="890" class="g">1 / 1</text>
<text x="1174" y="899" class="lb">resourcePool1</text>
</svg>
</body></html>
